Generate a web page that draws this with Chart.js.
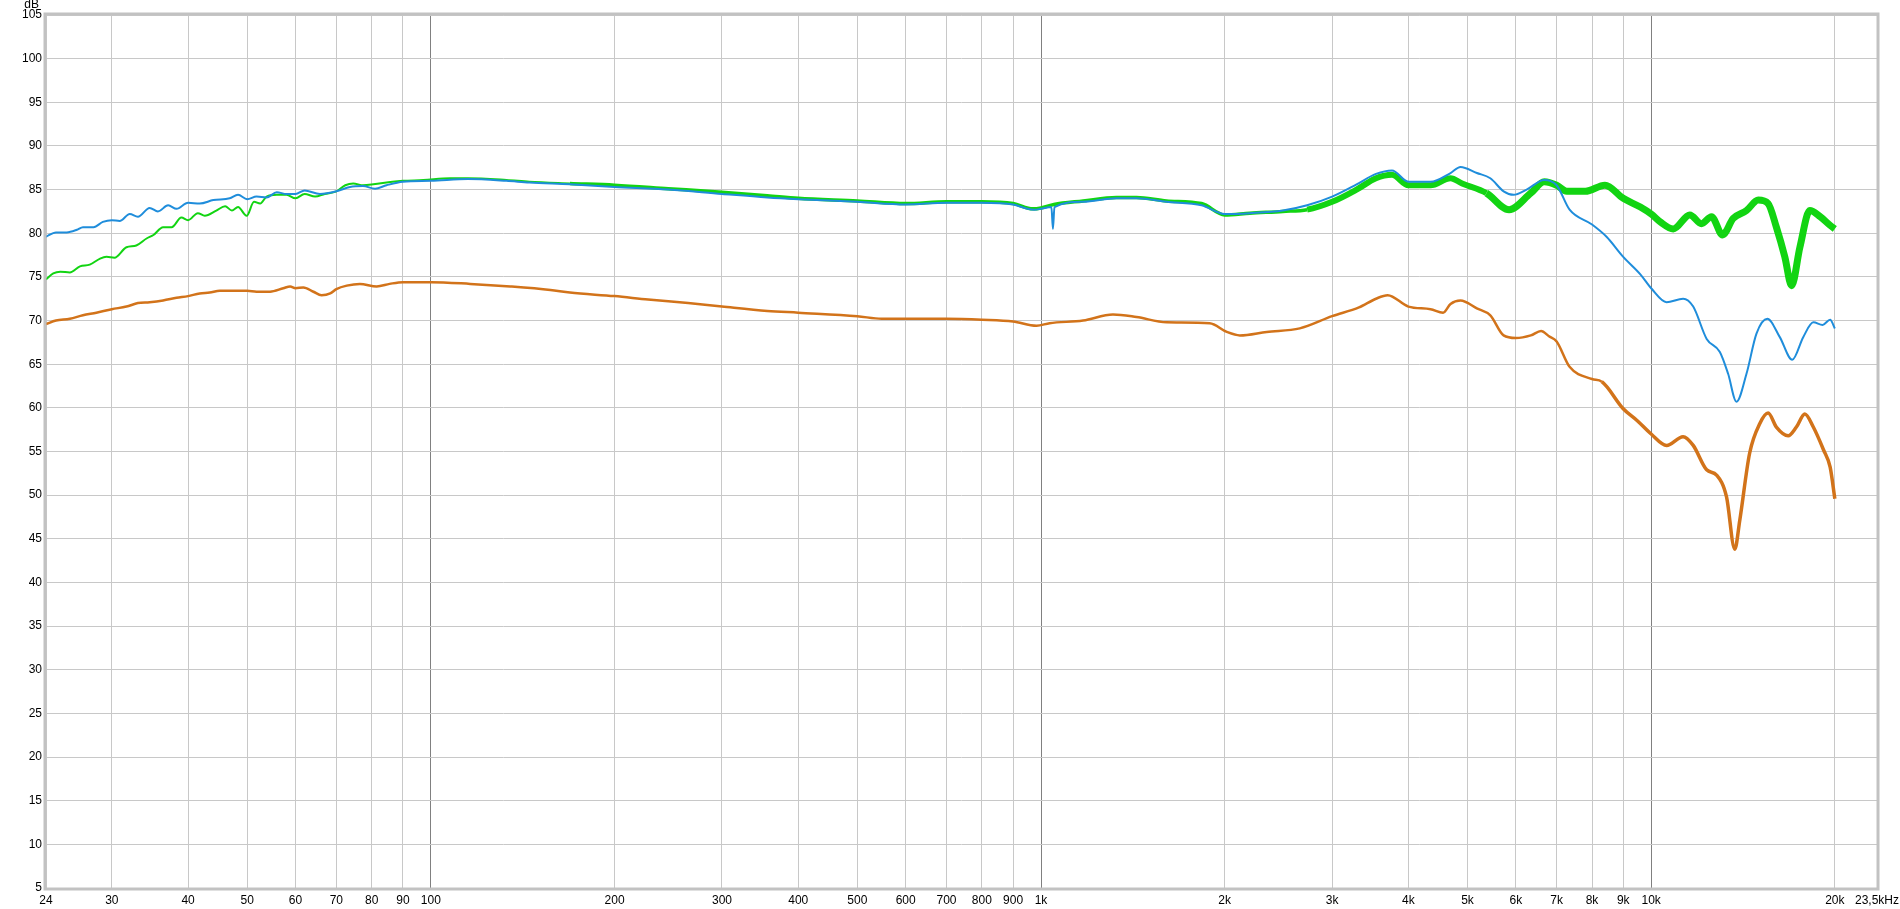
<!DOCTYPE html>
<html>
<head>
<meta charset="utf-8">
<script src="https://cdn.jsdelivr.net/npm/chart.js@4.4.0/dist/chart.umd.min.js"></script>
<style>
  html, body { margin: 0; padding: 0; background: #fff; overflow: hidden; }
</style>
</head>
<body>
<canvas id="fr" width="1900" height="909"></canvas>
<script>
// frequency axis limits (Hz) and tick positions
const fMin = 23.4, fMax = 23450;
const xTickHz = [fMin, 30, 40, 50, 60, 70, 80, 90, 100, 200, 300, 400, 500, 600, 700, 800, 900,
  1000, 2000, 3000, 4000, 5000, 6000, 7000, 8000, 9000, 10000, 20000, fMax];
const decadeHz = [100, 1000, 10000];
const dbMin = 5, dbMax = 105, dbStep = 5;

// blue trace
const blueHz = [23.4,24.3,25.3,26.3,26.9,28,29,30,30.9,32.1,33.1,34.6,35.7,37.1,38.3,40,41.8,44,46.8,48.3,
  50,51.8,53.8,55.9,58,60,62.1,65.8,70,73.7,77.4,81,84.6,90,100,115,133,145,169,200,
  245,300,356,400,500,600,700,800,900,950,975,1000,1040,1046,1052,1172,1329,1434,1606,1833,
  2000,2199,2491,2730,3000,3290,3540,3760,4000,4350,4690,4870,5180,5450,5730,5950,6250,6680,7000,7350,
  8000,8450,9000,9600,10000,10600,11280,11720,12330,12960,13370,13800,14330,14880,15500,16250,17030,17750,18440,19100,
  19650,20000];
const blueDb = [79.6,80.1,80.1,80.4,80.7,80.7,81.3,81.5,81.4,82.2,81.9,82.9,82.5,83.2,82.8,83.5,83.4,83.8,84.0,84.4,
  83.9,84.2,84.1,84.7,84.5,84.5,84.9,84.5,84.8,85.3,85.4,85.1,85.5,85.9,86.0,86.2,86.0,85.8,85.6,85.3,
  85.0,84.5,84.1,83.9,83.6,83.3,83.5,83.5,83.3,82.8,82.7,82.8,83.0,80.5,83.0,83.6,84.0,84.0,83.6,83.2,
  82.2,82.3,82.6,83.2,84.2,85.6,86.8,87.2,85.9,85.9,86.9,87.6,86.9,86.3,84.8,84.4,85.0,86.1,85.5,82.7,
  81.0,79.6,77.3,75.3,73.7,72.1,72.5,71.6,67.9,66.4,63.9,60.7,63.9,68.5,70.2,68.1,65.5,68.1,69.8,69.5,
  70.1,69.1];

// green trace
const greenHz = [23.4,24.05,24.7,25.6,26.6,27.6,28.7,29.4,30.3,31.7,32.9,34.2,35.1,36.4,37.6,39,40,41.5,42.6,44.5,
  46,47.2,48.3,49.9,51.3,52.5,53.8,55.9,58,60,62.1,64.6,67,70,72.4,74.6,77.4,80.5,86.5,90,
  97.2,107.5,115,133,145,169,200,245,300,356,400,500,600,700,800,900,970,1000,1050,1172,
  1329,1434,1606,1833,2000,2199,2491,2730,3000,3290,3540,3760,4000,4350,4690,4900,5370,5850,6350,6680,
  7000,7270,7800,8400,9000,9600,10000,10350,10870,11570,12090,12560,13090,13630,14330,14980,15550,16040,16560,16990,
  17530,18200,18920,19650,20000];
const greenDb = [74.7,75.4,75.6,75.5,76.2,76.4,77.1,77.3,77.2,78.4,78.6,79.4,79.8,80.7,80.7,81.8,81.5,82.3,82.0,82.6,
  83.1,82.6,83.0,82.0,83.6,83.4,84.2,84.4,84.4,84.0,84.5,84.2,84.5,84.8,85.5,85.7,85.5,85.6,85.9,86.0,
  86.1,86.3,86.3,86.1,85.9,85.7,85.5,85.1,84.7,84.3,84.0,83.7,83.4,83.6,83.6,83.4,82.8,82.9,83.3,83.7,
  84.1,84.1,83.7,83.4,82.1,82.3,82.5,82.7,83.6,85.0,86.3,86.7,85.5,85.5,86.3,85.7,84.6,82.7,84.6,85.9,
  85.5,84.8,84.8,85.5,84.0,83.0,82.2,81.3,80.5,82.1,81.1,81.9,79.8,81.7,82.6,83.8,83.4,80.7,77.3,74.0,
  78.4,82.6,81.9,80.9,80.5];

// orange trace
const orangeHz = [23.4,24.3,25.6,26.9,28.3,30,31.7,33.1,34.6,36.4,38.3,40,41.8,43.4,45.1,50,51.8,54.5,57.3,58.8,
  60,61.8,64.2,66.2,68.4,70,72.8,76.5,81.5,85.6,90,100,116,135,157,169,200,227,264,300,
  356,400,500,548,600,700,800,900,983,1033,1172,1312,1434,1606,1890,2016,2118,2344,2655,3000,
  3320,3540,3700,4000,4350,4560,4690,4870,5180,5450,5730,6000,6350,6600,6800,7000,7350,8000,8300,9000,
  9500,10000,10600,11280,11720,12330,12800,13290,13710,13970,14500,15070,15550,16040,16770,17300,17860,18440,19160,19650,
  20000];
const orangeDb = [69.6,70.0,70.2,70.6,70.9,71.3,71.6,72.0,72.1,72.3,72.6,72.8,73.1,73.2,73.4,73.4,73.3,73.3,73.7,73.9,
  73.7,73.8,73.3,72.9,73.1,73.6,74.0,74.2,73.9,74.2,74.4,74.4,74.2,73.9,73.5,73.2,72.8,72.4,72.0,71.6,
  71.1,70.9,70.5,70.2,70.2,70.2,70.1,69.9,69.4,69.7,70.0,70.7,70.4,69.8,69.7,68.7,68.3,68.7,69.1,70.5,
  71.5,72.5,72.9,71.6,71.3,70.9,71.9,72.3,71.4,70.6,68.3,68.0,68.3,68.8,68.2,67.6,64.7,63.3,63.0,59.9,
  58.5,57.0,55.7,56.7,55.7,52.9,52.3,49.8,43.8,47.1,54.8,58.2,59.4,57.8,56.8,57.8,59.3,57.8,55.2,53.2,
  49.6];

function pts(hz, db) {
  return hz.map((f, i) => ({ x: f, y: db[i] }));
}

function hzLabel(v) {
  if (v === fMin) return '24';
  if (v === fMax) return '23,5kHz';
  return v >= 1000 ? (v / 1000) + 'k' : String(v);
}

const axisFont = { family: '"Liberation Sans", Arial, sans-serif', size: 12 };

// grey frame round the plot + "dB" unit
const framePlugin = {
  id: 'frame',
  afterDraw(chart) {
    const a = chart.chartArea, ctx = chart.ctx;
    ctx.save();
    ctx.strokeStyle = '#c2c2c2';
    ctx.lineWidth = 3;
    ctx.strokeRect(a.left - 1, a.top - 1, a.right - a.left + 2, a.bottom - a.top + 2);
    ctx.fillStyle = '#000';
    ctx.font = '12px "Liberation Sans", Arial, sans-serif';
    ctx.textAlign = 'right';
    ctx.fillText('dB', 39, 8);
    ctx.restore();
  }
};

new Chart(document.getElementById('fr'), {
  type: 'line',
  data: {
    datasets: [
      {
        data: pts(blueHz, blueDb),
        borderColor: '#1f8ddb',
        borderWidth: 2
      },
      {
        data: pts(greenHz, greenDb),
        borderColor: '#12d412',
        borderWidth: 2,
        segment: {
          borderWidth: c => c.p0.parsed.x > 5000 ? 7 : (c.p0.parsed.x > 2500 ? 6 : (c.p0.parsed.x > 150 ? 3.5 : 2))
        }
      },
      {
        data: pts(orangeHz, orangeDb),
        borderColor: '#d2731a',
        borderWidth: 2.5,
        segment: {
          borderWidth: c => c.p0.parsed.x > 8000 ? 3.5 : 2.5
        }
      }
    ]
  },
  options: {
    responsive: false,
    animation: false,
    events: [],
    elements: {
      point: { radius: 0 },
      line: { cubicInterpolationMode: 'monotone', borderJoinStyle: 'round' }
    },
    layout: { padding: { top: 15, right: 23, left: 0, bottom: 0 } },
    plugins: { legend: { display: false }, tooltip: { enabled: false } },
    scales: {
      x: {
        type: 'logarithmic',
        min: fMin,
        max: fMax,
        afterBuildTicks: s => { s.ticks = xTickHz.map(v => ({ value: v })); },
        afterFit: s => { s.height = 21; s.paddingLeft = 0; s.paddingRight = 0; },
        ticks: {
          autoSkip: false,
          maxRotation: 0,
          padding: 5,
          color: '#000',
          font: axisFont,
          callback: v => hzLabel(v)
        },
        grid: {
          drawTicks: false,
          color: c => decadeHz.includes(c.tick && c.tick.value) ? '#808080' : '#c8c8c8'
        },
        border: { display: false }
      },
      y: {
        min: dbMin,
        max: dbMax,
        afterFit: s => { s.width = 46; s.paddingTop = 0; s.paddingBottom = 0; },
        ticks: { stepSize: dbStep, padding: 4, color: '#000', font: axisFont },
        grid: { drawTicks: false, color: '#c8c8c8' },
        border: { display: false }
      }
    }
  },
  plugins: [framePlugin]
});
</script>
</body>
</html>
